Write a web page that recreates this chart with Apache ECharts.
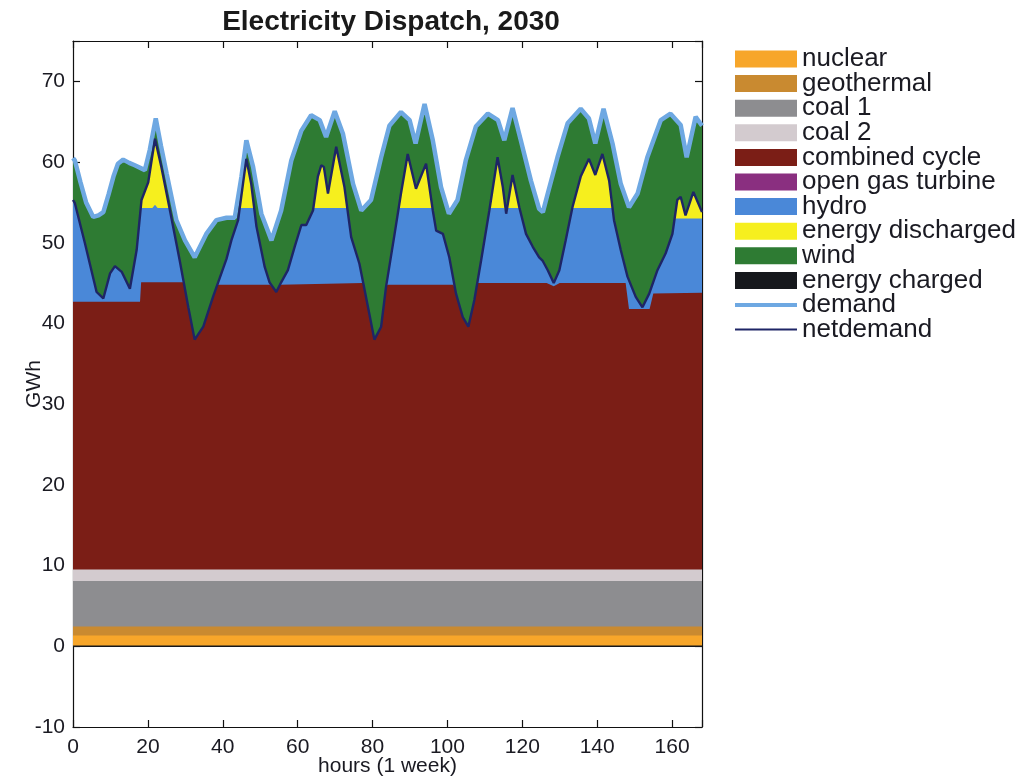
<!DOCTYPE html>
<html><head><meta charset="utf-8">
<script src="https://cdn.jsdelivr.net/npm/echarts@6/dist/echarts.min.js"></script>
<style>html,body{margin:0;padding:0;background:#fff}#c{width:1021px;height:776px}</style>
</head><body><div id="c"></div>
<script>
// ---- data (GWh), each array is [hour, top-of-layer value] ----
const legendNames = ['nuclear','geothermal','coal 1','coal 2','combined cycle','open gas turbine','hydro','energy discharged','wind','energy charged','demand','netdemand'];
const yTicks = [-10,0,10,20,30,40,50,60,70];
const xTicks = [0,20,40,60,80,100,120,140,160];

const nuclearTop = [[0,1.35],[168,1.35]];
const geothermalTop = [[0,2.45],[168,2.45]];
const coal1Top = [[0,8.1],[168,8.1]];
const coal2Top = [[0,9.5],[168,9.5]];
const openGasTop = [[0,0],[168,0]];
const chargedTop = [[0,0],[168,0]];

const combinedCycleTop = [[0,42.7],[17.9,42.7],[18.2,45.1],[29.6,45.1],[30.8,42.0],[32.5,38.0],[34.8,39.6],[37.4,43.3],[38.3,44.8],[52.6,44.8],[53.2,44.5],[54.3,43.9],[55.4,44.8],[55.8,45.0],[77.4,45.0],[78.8,42.0],[80.5,38.0],[82.3,39.6],[83.6,44.5],[84,44.8],[101.6,44.8],[102.3,43.7],[104.1,40.8],[105.6,39.6],[107.2,42.9],[108,45.0],[126.5,45.0],[128.4,44.6],[130,45.0],[147.6,45.0],[148.5,41.8],[154,41.8],[155,43.7],[168,43.8]];

const hydroTop = [[0,55.3],[0.5,54.9],[3.2,49.9],[6.3,43.9],[8.1,43.1],[9.9,46.2],[11.2,47.1],[13,46.4],[15.2,44.3],[17,49.1],[18.1,54.3],[21.2,54.3],[21.9,54.7],[22.6,54.3],[25.8,54.3],[28.5,47.8],[30.8,42.0],[32.5,38.0],[34.8,39.6],[37.4,43.3],[41,48.0],[42.3,50.3],[44.1,52.8],[44.6,54.3],[48.4,54.3],[49,52.0],[51.2,47.0],[52.5,45.1],[54.3,43.9],[55.6,45.1],[57.4,46.6],[59.2,49.5],[61,52.2],[62.3,52.2],[64.2,54.3],[73.3,54.3],[74.3,50.7],[76.5,47.4],[78.8,42.0],[80.5,38.0],[82.3,39.6],[83.6,44.5],[85.9,51.1],[87,54.3],[96,54.3],[97,51.5],[98.8,51.1],[100.5,48.2],[102.3,43.7],[104.1,40.8],[105.6,39.6],[107.2,42.9],[109,47.8],[111.3,54.3],[115.2,54.3],[115.7,53.6],[116.2,54.3],[119.3,54.3],[121,51.1],[122.8,49.5],[124.5,48.2],[125.4,47.8],[126.8,46.6],[128.4,45.0],[129.9,46.6],[131.6,50.3],[133.4,54.3],[144.1,54.3],[144.5,52.8],[146.3,49.1],[148.1,45.8],[150.3,43.3],[152.1,42.0],[153.9,43.7],[156.1,46.6],[158.3,48.7],[160.1,51.1],[160.7,53.0],[168,53.0]];

const netDemand = [[0,55.3],[0.5,54.9],[3.2,49.9],[6.3,43.9],[8.1,43.1],[9.9,46.2],[11.2,47.1],[13,46.4],[15.2,44.3],[17,49.1],[18.3,55.3],[20.1,57.5],[21.9,62.9],[23.6,59.4],[25.9,54.0],[28.5,47.8],[30.8,42.0],[32.5,38.0],[34.8,39.6],[37.4,43.3],[41,48.0],[42.3,50.3],[44.1,52.8],[45.4,57.3],[46.3,60.4],[47.6,57.3],[49,52.0],[51.2,47.0],[52.5,45.1],[54.3,43.9],[55.6,45.1],[57.4,46.6],[59.2,49.5],[61,52.2],[62.3,52.2],[64.1,54.0],[65.4,58.2],[66.3,59.6],[67,59.4],[68.1,56.1],[70.3,61.9],[72.5,56.9],[74.3,50.7],[76.5,47.4],[78.8,42.0],[80.5,38.0],[82.3,39.6],[83.6,44.5],[85.9,51.1],[87.6,56.1],[89.4,61.0],[91.6,56.7],[94.3,59.8],[96.1,54.0],[97,51.5],[98.8,51.1],[100.5,48.2],[102.3,43.7],[104.1,40.8],[105.6,39.6],[107.2,42.9],[109,47.8],[111.2,54.0],[113.4,60.6],[114.8,56.9],[115.7,53.6],[117.4,58.4],[119.2,54.4],[121,51.1],[122.8,49.5],[124.5,48.2],[125.4,47.8],[126.8,46.6],[128.4,45.0],[129.9,46.6],[131.6,50.3],[133.4,54.4],[135.6,58.2],[137.8,60.4],[139.5,58.4],[141.4,61.0],[143.2,57.7],[144.5,52.8],[146.3,49.1],[148.1,45.8],[150.3,43.3],[152.1,42.0],[153.9,43.7],[156.1,46.6],[158.3,48.7],[160.1,51.1],[161.4,55.3],[162.3,55.7],[163.6,53.4],[165.7,56.3],[168,53.8]];

const demand = [[0,60.5],[0.5,60.2],[2,57.5],[3.5,55.0],[5.4,53.2],[6.8,53.4],[8.1,53.8],[9.5,56.0],[10.8,58.2],[12,59.8],[13.4,60.3],[15,59.9],[16.5,59.6],[19.2,59.0],[20.5,61.5],[22.1,65.4],[23.5,62.0],[25,58.6],[27.6,52.8],[29.9,50.3],[32.5,48.2],[35.6,51.1],[38.3,52.8],[41,53.1],[43.2,53.1],[45,58.2],[46.3,62.7],[48.1,59.4],[50.3,53.6],[53,50.3],[55.6,54.0],[58.3,60.2],[61,63.9],[63.6,65.8],[65.9,65.2],[67.6,63.1],[69.9,66.3],[72.1,63.5],[74.8,57.3],[77,54.0],[79.6,55.3],[82.3,60.6],[84.5,64.5],[87.6,66.2],[89.9,65.2],[91.5,62.3],[93.9,67.2],[96.1,62.7],[98.3,56.9],[100.4,53.6],[102.7,55.3],[104.9,60.2],[107.6,64.4],[110.8,66.0],[113.5,65.2],[115.2,62.7],[117.4,66.7],[119.6,62.7],[122.3,57.7],[124.5,54.2],[125.5,53.8],[126.8,56.1],[129.4,60.6],[132.1,64.8],[135.6,66.6],[137.8,65.4],[139.5,62.3],[141.7,66.6],[144.1,62.3],[146.3,57.3],[148.5,54.4],[150.8,56.1],[153.4,60.6],[157,65.2],[159.6,66.0],[162.3,64.6],[163.9,60.6],[166.3,65.6],[168,64.5]];

const colors = {
  nuclear:'#f7a62a', geothermal:'#c98a30', coal1:'#8d8d90', coal2:'#d3cbcf',
  cc:'#7b1e16', gas:'#8a2f80', hydro:'#4a88d8', discharged:'#f6ef1e',
  wind:'#2e7b33', charged:'#16181c', demand:'#6ea8e2', net:'#1e2566'
};
const FONT = "'Liberation Sans', Arial, Helvetica, sans-serif";

function area(name, data, color) {
  return { name, type:'line', data, xAxisIndex:0, yAxisIndex:0, symbol:'none', showSymbol:false,
    lineStyle:{width:0, color}, areaStyle:{color, opacity:1}, itemStyle:{color}, animation:false, silent:true };
}

const chart = echarts.init(document.getElementById('c'), null, {renderer:'canvas'});
const axisCommon = {
  axisLine:{show:true, onZero:false, lineStyle:{color:'#111', width:1.2}},
  axisTick:{show:true, inside:true, length:7, lineStyle:{color:'#111', width:1.2}},
  splitLine:{show:false}
};
chart.setOption({
  animation:false,
  backgroundColor:'#fff',
  title:{ text:'Electricity Dispatch, 2030', left:386, top:3, textAlign:'center',
    textStyle:{fontFamily:FONT, fontWeight:'bold', fontSize:28, color:'#1a1a1a'} },
  grid:{ left:73, right:319, top:41, bottom:49, containLabel:false, outerBoundsMode:'none' },
  legend:{
    orient:'vertical', left:735, top:46, padding:0, itemWidth:62, itemHeight:17, itemGap:-1.4,
    textStyle:{fontFamily:FONT, fontSize:26, color:'#1a1a22'},
    selectedMode:false,
    data:[
      {name:'nuclear', icon:'rect'}, {name:'geothermal', icon:'rect'}, {name:'coal 1', icon:'rect'},
      {name:'coal 2', icon:'rect'}, {name:'combined cycle', icon:'rect'}, {name:'open gas turbine', icon:'rect'},
      {name:'hydro', icon:'rect'}, {name:'energy discharged', icon:'rect'}, {name:'wind', icon:'rect'},
      {name:'energy charged', icon:'rect'},
      {name:'demand', icon:'path://M0,0 H62 V4 H0 Z'},
      {name:'netdemand', icon:'path://M0,0 H62 V2 H0 Z'}
    ]
  },
  xAxis:[
    Object.assign({ type:'value', min:0, max:168, interval:20, position:'bottom',
      name:'hours (1 week)', nameLocation:'middle', nameGap:29, nameMoveOverlap:false,
      nameTextStyle:{fontFamily:FONT, fontSize:21, color:'#1a1a22'},
      axisLabel:{fontFamily:FONT, fontSize:21, color:'#1a1a22', margin:10,
        formatter: v => xTicks.includes(v) ? String(v) : ''} }, axisCommon),
    Object.assign({ type:'value', min:0, max:168, interval:20, position:'top',
      axisLabel:{show:false} }, axisCommon)
  ],
  yAxis:[
    Object.assign({ type:'value', min:-10, max:75, interval:10, position:'left',
      name:'GWh', nameLocation:'middle', nameGap:28, nameRotate:90, nameMoveOverlap:false,
      nameTextStyle:{fontFamily:FONT, fontSize:21, color:'#1a1a22'},
      axisLabel:{fontFamily:FONT, fontSize:21, color:'#1a1a22', margin:8,
        formatter: v => yTicks.includes(v) ? String(v) : ''} }, axisCommon),
    Object.assign({ type:'value', min:-10, max:75, interval:10, position:'right',
      axisLabel:{show:false} }, axisCommon)
  ],
  series:[
    area('wind', demand, colors.wind),
    area('energy discharged', netDemand, colors.discharged),
    area('hydro', hydroTop, colors.hydro),
    area('combined cycle', combinedCycleTop, colors.cc),
    area('coal 2', coal2Top, colors.coal2),
    area('coal 1', coal1Top, colors.coal1),
    area('geothermal', geothermalTop, colors.geothermal),
    area('nuclear', nuclearTop, colors.nuclear),
    { name:'open gas turbine', type:'line', data:openGasTop, symbol:'none', lineStyle:{width:0, color:colors.gas},
      itemStyle:{color:colors.gas}, silent:true },
    { name:'energy charged', type:'line', data:chargedTop, symbol:'none', lineStyle:{width:1.5, color:colors.charged},
      itemStyle:{color:colors.charged}, silent:true },
    { name:'demand', type:'line', data:demand, symbol:'none', lineStyle:{width:4.5, color:colors.demand},
      itemStyle:{color:colors.demand}, silent:true },
    { name:'netdemand', type:'line', data:netDemand, symbol:'none', lineStyle:{width:2.4, color:colors.net},
      itemStyle:{color:colors.net}, silent:true }
  ]
});
</script></body></html>
